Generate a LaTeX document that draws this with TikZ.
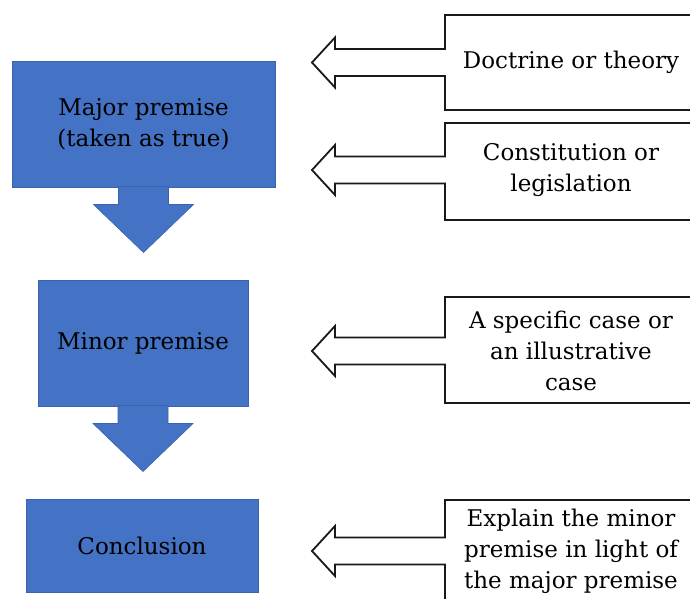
\documentclass[tikz,border=0pt]{standalone}
\usepackage{fontspec}
\setmainfont{DejaVu Serif}
\definecolor{boxblue}{HTML}{4472C4}
\definecolor{boxline}{HTML}{3B63AC}
\tikzset{
  premise/.style={fill=boxblue, draw=boxline, line width=1pt, align=center, inner sep=0pt,
    font=\fontsize{23}{31}\selectfont},
  downarrow/.style={fill=boxblue, draw=boxline, line width=0.6pt},
  callout/.style={draw=black!90, line width=1.8pt, fill=white},
  source/.style={align=center, inner sep=0pt, font=\fontsize{23}{31}\selectfont}
}
\begin{document}
\begin{tikzpicture}[x=1pt,y=-1pt]
        \useasboundingbox (0,0) rectangle (690,599);
        \clip (0,0) rectangle (690,599);
        % the three steps of the argument
        \node[premise, minimum width=263pt, minimum height=125pt] (major) at (143.5,124.5) {Major premise\\(taken as true)};
        \node[premise, minimum width=210pt, minimum height=126pt] (minor) at (143,343) {Minor premise};
        \node[premise, minimum width=232pt, minimum height=93pt] (concl) at (142,545.5) {Conclusion};
        \foreach \a in {major,minor}{
            \draw[downarrow] ([xshift=-25pt,yshift=1pt]\a.south) -- ++(0,18) -- ++(-25,0)
                -- ++(50,48) -- ++(50,-48) -- ++(-25,0) -- ++(0,-18) -- cycle;
        }
        % where each step comes from
        \foreach \n/\ya/\yb/\yc/\txt in {doctrine/15/110/62.5/{Doctrine or theory},
                law/123/220/170/{Constitution or\\legislation},
                case/297/403/351/{A specific case or\\an illustrative\\case},
                explain/500/640/551/{Explain the minor\\premise in light of\\the major premise}}{
            \draw[callout] (700,\ya) -- (445,\ya) -- (445,\yc-13.5) -- (335,\yc-13.5) -- (335,\yc-25)
                -- (312,\yc) -- (335,\yc+25) -- (335,\yc+13.5) -- (445,\yc+13.5) -- (445,\yb) -- (700,\yb);
            \node[source] (\n) at (571,\yc) {\txt};
        }
\end{tikzpicture}
\end{document}
